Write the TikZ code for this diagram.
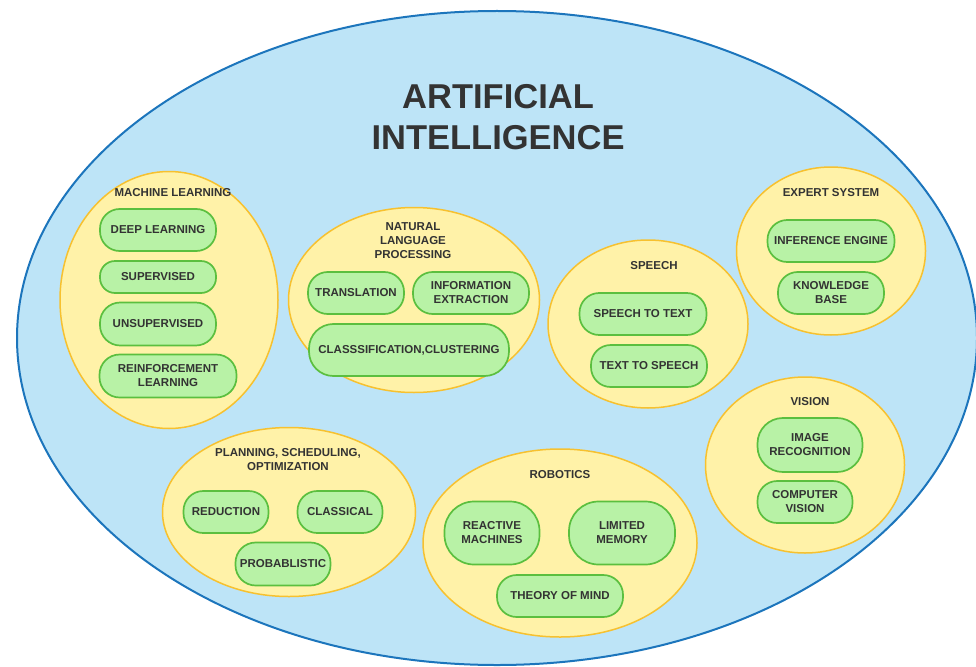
\documentclass[tikz,border=0pt]{standalone}
\usepackage{fontspec}
\setmainfont{Liberation Sans}
\usetikzlibrary{shapes.geometric}
\definecolor{skyfill}{HTML}{BDE4F7}
\definecolor{skyline}{HTML}{1C75BC}
\definecolor{sunfill}{HTML}{FFF2A8}
\definecolor{sunline}{HTML}{F7C12F}
\definecolor{leaffill}{HTML}{B8F2A6}
\definecolor{leafline}{HTML}{5BBF3F}
\definecolor{ink}{HTML}{333333}
\tikzset{
  field/.style 2 args={ellipse,draw=sunline,fill=sunfill,line width=1.5pt,minimum width=#1,minimum height=#2,inner sep=0pt},
  topic/.style={text=ink,font=\bfseries\fontsize{11.5}{14}\selectfont,align=center,inner sep=0pt},
  pill/.style 2 args={rectangle,draw=leafline,fill=leaffill,line width=1.7pt,minimum width=#1,minimum height=#2,rounded corners=0.47*#2,inner sep=0pt,text=ink,font=\bfseries\fontsize{11.5}{14}\selectfont,align=center},
}
\begin{document}
\begin{tikzpicture}[x=1pt,y=-1pt]
	\useasboundingbox (0,0) rectangle (976,666);
	\node[ellipse,draw=skyline,fill=skyfill,line width=2pt,minimum width=960,minimum height=654,inner sep=0pt] (ai) at (497,338) {};
	\node[text=ink,font=\bfseries\fontsize{34.5}{41}\selectfont,align=center] (aititle) at (498,117) {ARTIFICIAL\\INTELLIGENCE};
	% groups
	\node[field={218}{257}] (ml) at (169,300) {};
	\node[field={251}{185}] (nlp) at (414,300) {};
	\node[field={200}{168}] (speech) at (648,324) {};
	\node[field={189}{168}] (expert) at (831,251) {};
	\node[field={199}{176}] (vision) at (805,465) {};
	\node[field={253}{169}] (plan) at (289,512) {};
	\node[field={274}{188}] (robot) at (560,543) {};
	\node[topic] (mltitle) at (173,193) {MACHINE LEARNING};
	\node[topic] (nlptitle) at (413,241) {NATURAL\\LANGUAGE\\PROCESSING};
	\node[topic] (speechtitle) at (654,266) {SPEECH};
	\node[topic] (experttitle) at (831,193) {EXPERT SYSTEM};
	\node[topic] (visiontitle) at (810,402) {VISION};
	\node[topic] (plantitle) at (288,460) {PLANNING, SCHEDULING,\\OPTIMIZATION};
	\node[topic] (robottitle) at (560,475) {ROBOTICS};
	% members
	\node[pill={116}{42}] (deep) at (158,230) {DEEP LEARNING};
	\node[pill={116}{32}] (superv) at (158,277) {SUPERVISED};
	\node[pill={116}{43}] (unsup) at (158,324) {UNSUPERVISED};
	\node[pill={137}{43}] (reinf) at (168,376) {REINFORCEMENT\\LEARNING};
	\node[pill={96}{42}] (transl) at (356,293) {TRANSLATION};
	\node[pill={116}{42}] (infoext) at (471,293) {INFORMATION\\EXTRACTION};
	\node[pill={200}{52}] (classif) at (409,350) {CLASSSIFICATION,CLUSTERING};
	\node[pill={127}{42}] (stt) at (643,314) {SPEECH TO TEXT};
	\node[pill={116}{42}] (tts) at (649,366) {TEXT TO SPEECH};
	\node[pill={127}{42}] (infer) at (831,241) {INFERENCE ENGINE};
	\node[pill={106}{42}] (know) at (831,293) {KNOWLEDGE\\BASE};
	\node[pill={105}{54}] (imgrec) at (810,445) {IMAGE\\RECOGNITION};
	\node[pill={95}{42}] (compvis) at (805,502) {COMPUTER\\VISION};
	\node[pill={85}{42}] (reduc) at (226,512) {REDUCTION};
	\node[pill={85}{42}] (classic) at (340,512) {CLASSICAL};
	\node[pill={95}{43}] (probab) at (283,564) {PROBABLISTIC};
	\node[pill={95}{63}] (reactive) at (492,533) {REACTIVE\\MACHINES};
	\node[pill={106}{63}] (limited) at (622,533) {LIMITED\\MEMORY};
	\node[pill={126}{42}] (theory) at (560,596) {THEORY OF MIND};
\end{tikzpicture}
\end{document}
